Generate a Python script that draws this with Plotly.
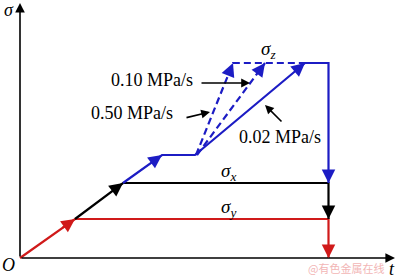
import plotly.graph_objects as go

# ---- data (schematic loading path: time t vs stress sigma) ----
red_t = [0, 55, 308.5, 308.5]
red_s = [0, 39, 39, 0]
black_t = [55, 103, 308.5, 308.5]
black_s = [39, 75, 75, 39]
blue_t = [103, 142, 175, 285, 308.5, 308.5]
blue_s = [75, 103, 103, 195, 195, 75]
dash_a_t = [176, 213, 285]
dash_a_s = [103, 195, 195]
dash_b_t = [177, 245]
dash_b_s = [103, 195]

rate_labels = ["0.10 MPa/s", "0.50 MPa/s", "0.02 MPa/s"]
rate_t = [132, 112, 260]
rate_s = [178, 145, 121]
rate_arrow_from_t = [180, 165, 263]
rate_arrow_from_s = [175, 140, 135]
rate_arrow_to_t = [230, 190, 245]
rate_arrow_to_s = [175, 146, 153]

RED = "#d01a1a"
BLACK = "#000000"
BLUE = "#1c1cc4"
SERIF = "Liberation Serif"

fig = go.Figure()

def line(t, s, color, dash="solid"):
    fig.add_trace(go.Scatter(x=t, y=s, mode="lines",
                             line=dict(color=color, width=2.2, dash=dash),
                             hoverinfo="skip", showlegend=False))

line(red_t, red_s, RED)
line(black_t, black_s, BLACK)
line(dash_a_t, dash_a_s, BLUE, "7px,4px")
line(dash_b_t, dash_b_s, BLUE, "7px,4px")
line(blue_t, blue_s, BLUE)

annotations = []

def arrow(x0, y0, x1, y1, color, width=2, size=1.35, head=2):
    annotations.append(dict(x=x1, y=y1, ax=x0, ay=y0, xref="x", yref="y",
                            axref="x", ayref="y", text="", showarrow=True,
                            arrowhead=head, arrowsize=size, arrowwidth=width,
                            arrowcolor=color, standoff=0, startstandoff=0))

def head_on(ts, ss, i, color, frac=0.25):
    # arrowhead at end of segment i (from point i to point i+1)
    x0, y0, x1, y1 = ts[i], ss[i], ts[i + 1], ss[i + 1]
    arrow(x1 - (x1 - x0) * frac, y1 - (y1 - y0) * frac, x1, y1, color)

# axes
arrow(0, 0, 0, 255, BLACK, width=1.6, size=1.2)
arrow(0, 0, 375, 0, BLACK, width=1.6, size=1.2)

# path arrowheads
head_on(red_t, red_s, 0, RED)
head_on(red_t, red_s, 2, RED)
head_on(black_t, black_s, 0, BLACK)
head_on(black_t, black_s, 2, BLACK)
head_on(blue_t, blue_s, 0, BLUE)
head_on(blue_t, blue_s, 2, BLUE, frac=0.1)
head_on(blue_t, blue_s, 4, BLUE, frac=0.1)
head_on(dash_a_t, dash_a_s, 0, BLUE, frac=0.12)
head_on(dash_b_t, dash_b_s, 0, BLUE, frac=0.12)

# rate label pointers
for i in range(3):
    arrow(rate_arrow_from_t[i], rate_arrow_from_s[i], rate_arrow_to_t[i],
          rate_arrow_to_s[i], BLACK, width=1.6, size=1.1)

def text(x, y, s, size=18, color=BLACK, family=SERIF):
    annotations.append(dict(x=x, y=y, xref="x", yref="y", text=s,
                            showarrow=False, font=dict(family=family, size=size,
                                                       color=color)))

for lab, x, y in zip(rate_labels, rate_t, rate_s):
    text(x, y, lab)

text(248, 208, "<i>σ<sub>z</sub></i>", size=19)
text(208, 86, "<i>σ<sub>x</sub></i>", size=19)
text(208, 50, "<i>σ<sub>y</sub></i>", size=19)
text(-11, 248, "<i>σ</i>", size=18)
text(-12, -7, "<i>O</i>", size=18)
text(372, -11, "<i>t</i>", size=18)
text(326, -10, "@有色金属在线", size=11, color="#f2b6b6",
     family="Noto Sans CJK SC")

fig.update_layout(
    width=400, height=280,
    margin=dict(l=0, r=0, t=0, b=0),
    paper_bgcolor="white", plot_bgcolor="white",
    xaxis=dict(range=[-20, 380], visible=False, fixedrange=True),
    yaxis=dict(range=[-22, 258], visible=False, fixedrange=True),
    annotations=annotations,
)

fig.write_html("out.html")
